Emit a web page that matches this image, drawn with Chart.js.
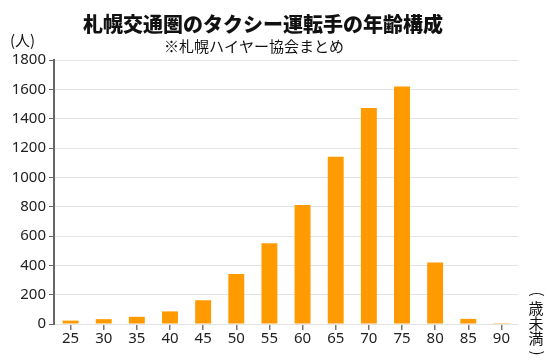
<!DOCTYPE html>
<html>
<head>
<meta charset="utf-8">
<script src="https://cdn.jsdelivr.net/npm/chart.js@4"></script>
<style>
  html, body { margin: 0; padding: 0; background: #fff; }
  #wrap { width: 550px; height: 363px; }
</style>
</head>
<body>
<div id="wrap"><canvas id="ageChart" width="550" height="363"></canvas></div>
<script>
// 年齢区分（〜歳未満）
const ages = ['25', '30', '35', '40', '45', '50', '55', '60', '65', '70', '75', '80', '85', '90'];
// 人数
const drivers = [23, 33, 49, 86, 162, 341, 550, 811, 1141, 1473, 1620, 420, 35, 6];
const yTicks = [0, 200, 400, 600, 800, 1000, 1200, 1400, 1600, 1800];

const titleText = '札幌交通圏のタクシー運転手の年齢構成';
const subText = '※札幌ハイヤー協会まとめ';
const yUnit = '(人)';
const xUnit = ['(', '歳', '未', '満', ')'];

const cjk = '"Noto Sans CJK JP", "Noto Sans", sans-serif';

// タイトル・単位の描画
const labelsPlugin = {
  id: 'labels',
  afterDraw(chart) {
    const c = chart.ctx;
    c.save();
    c.fillStyle = '#111';
    c.textAlign = 'center';
    c.textBaseline = 'middle';
    c.font = '900 20px ' + cjk;
    c.fillText(titleText, 263, 24);
    c.font = '15px ' + cjk;
    c.fillText(subText, 254, 46);
    c.textAlign = 'left';
    c.fillText(yUnit, 10, 40);
    // 縦書き「(歳未満)」
    c.textAlign = 'center';
    const ys = [294, 308, 323, 338, 353];
    xUnit.forEach((ch, i) => {
      if (ch === '(' || ch === ')') {
        c.save();
        c.translate(538, ys[i]);
        c.rotate(Math.PI / 2);
        c.fillText(ch, 0, 0);
        c.restore();
      } else {
        c.fillText(ch, 536, ys[i]);
      }
    });
    c.restore();
  }
};

new Chart(document.getElementById('ageChart'), {
  type: 'bar',
  data: {
    labels: ages,
    datasets: [{
      data: drivers,
      backgroundColor: '#FF9A00',
      barPercentage: 0.48,
      categoryPercentage: 1
    }]
  },
  options: {
    responsive: false,
    animation: false,
    layout: { padding: { top: 60, right: 32, left: 0, bottom: 0 } },
    plugins: { legend: { display: false }, tooltip: { enabled: false } },
    scales: {
      x: {
        afterFit: s => { s.height = 39; },
        border: { display: false },
        grid: { offset: false, drawOnChartArea: false, drawTicks: true, tickLength: 6, tickColor: '#777', lineWidth: 1.5 },
        ticks: { color: '#222', font: { family: 'Noto Sans', size: 15 }, padding: 0 }
      },
      y: {
        min: 0,
        max: 1800,
        afterFit: s => { s.width = 54; },
        afterBuildTicks: s => { s.ticks = yTicks.map(v => ({ value: v })); },
        border: { display: true, color: '#666', width: 2 },
        grid: { color: '#e2e2e2', tickColor: '#666', tickLength: 5, lineWidth: 1 },
        ticks: { color: '#222', font: { family: 'Noto Sans', size: 15 }, padding: 3, callback: v => String(v) }
      }
    }
  },
  plugins: [labelsPlugin]
});
</script>
</body>
</html>
